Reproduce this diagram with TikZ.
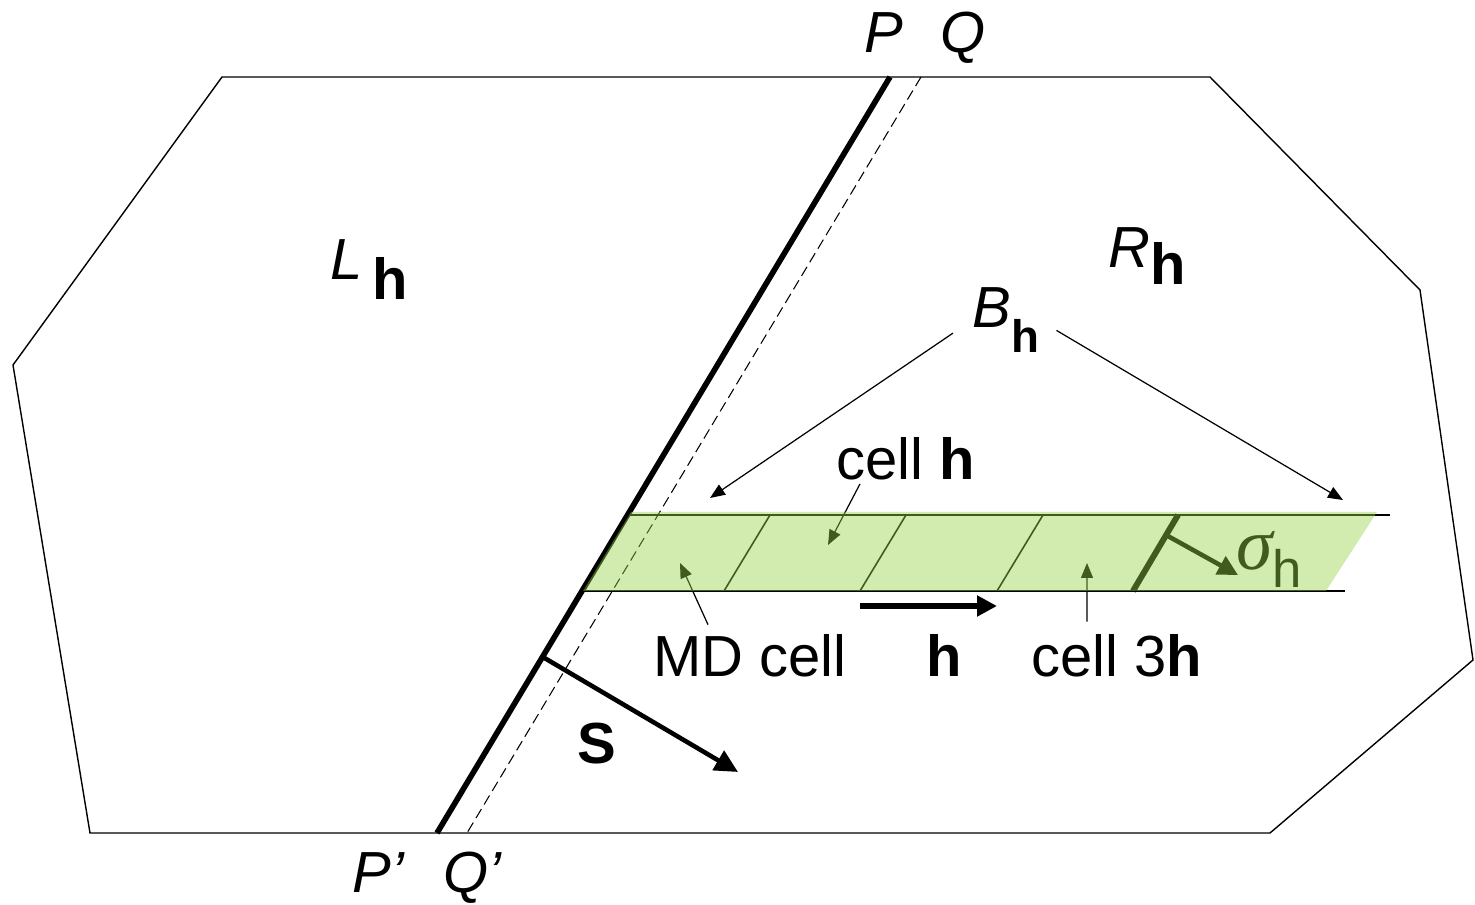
\documentclass[tikz,border=0pt]{standalone}
\usepackage{fontspec}
\setmainfont{Liberation Sans}
\newfontfamily\greekserif{Liberation Serif}
\usetikzlibrary{arrows.meta,calc}
\definecolor{bandgreen}{RGB}{151,209,70}

\begin{document}
\begin{tikzpicture}[x=0.02cm,y=-0.02cm,
  lab/.style={inner sep=0pt,anchor=base west,font=\fontsize{33}{38}\selectfont},
  thinarr/.style={-{Triangle[length=3mm,width=2.4mm]},line width=0.7pt},
  fatarr/.style={-{Triangle[length=4.6mm,width=4.4mm]},line width=2.6pt}]
\useasboundingbox (0,0) rectangle (1475,905);
% outer region
\draw[line width=0.8pt] (222,77) -- (1210,77) -- (1420,290) -- (1473,660) -- (1270,833) -- (90,833) -- (13,365) -- cycle;
% the two planes
\coordinate (P) at (890,77); \coordinate (Pp) at (437,833);
\coordinate (Q) at (921,77); \coordinate (Qp) at (467,833);
\draw[line width=3.2pt] (P) -- (Pp);
\draw[dash pattern=on 6pt off 3pt,line width=0.6pt] (Q) -- (Qp);
\node[lab] (Plab) at (864,53) {\textit{P}};
\node[lab] (Qlab) at (940,53) {\textit{Q}};
\node[lab] (Pplab) at (352,892) {\textit{P’}};
\node[lab] (Qplab) at (443,892) {\textit{Q’}};
\node[lab] (Lh) at (330,280) {\textit{L}\,\raisebox{-0.34em}{\textbf{h}}};
\node[lab] (Rh) at (1108,268) {\textit{R}\raisebox{-0.28em}{\textbf{h}}};
% normal S
\coordinate (s0) at ($(P)!0.767!(Pp)$); \coordinate (s1) at (738,772);
\draw[fatarr] (s0) -- (s1);
\node[lab] (S) at (577,763) {\textbf{S}};
% the strip of cells
\coordinate (b1) at (629,515); \coordinate (b2) at (1390,515);
\coordinate (b3) at (583,591); \coordinate (b4) at (1345,591);
\draw[line width=0.8pt] (b1) -- (b2); \draw[line width=0.8pt] (b3) -- (b4);
\foreach \x in {724,860,997} \draw[line width=0.9pt] (\x,591) -- ++(46,-76);
\draw[line width=3.4pt] (1133,591) -- (1178,515);
\coordinate (sig0) at (1166,535); \coordinate (sig1) at (1238,575);
\draw[-{Triangle[length=4mm,width=4mm]},line width=2.6pt] (sig0) -- (sig1);
\node[lab] (sig) at (1236,570) {{\greekserif\fontsize{42}{44}\selectfont\itshape σ}\raisebox{-0.3em}{\fontsize{30}{34}\selectfont h}};
% labels and pointers
\node[lab] (Bh) at (972,328) {\textit{B}\raisebox{-0.42em}{\fontsize{26}{30}\selectfont\textbf{h}}};
\coordinate (Bl) at (710,498); \coordinate (Br) at (1343,500);
\draw[thinarr,shorten <=0.46cm] (Bh.west) -- (Bl);
\draw[thinarr,shorten <=0.4cm] (Bh.east) -- (Br);
\node[lab] (cellh) at (836,480) {cell \textbf{h}};
\coordinate (ch) at (828,545);
\draw[thinarr] ([xshift=0.48cm,yshift=-0.06cm]cellh.south west) -- (ch);
\node[lab] (md) at (653,676) {MD cell};
\coordinate (mdc) at (680,563);
\draw[thinarr] ([xshift=1.1cm,yshift=0.18cm]md.north west) -- (mdc);
\node[lab] (hlab) at (926,676) {\textbf{h}};
\coordinate (h0) at (860,606); \coordinate (h1) at (997,606);
\draw[-{Triangle[length=4mm,width=4mm]},line width=3pt] (h0) -- (h1);
\node[lab] (c3) at (1031,676) {cell 3\textbf{h}};
\coordinate (c3c) at (1087,563);
\draw[thinarr] ([xshift=1.12cm,yshift=0.24cm]c3.north west) -- (c3c);
% green overlay on the strip
\fill[bandgreen,opacity=0.43] (631,512) -- (1377,512) -- (1326,591) -- (583,591) -- cycle;
\end{tikzpicture}
\end{document}
